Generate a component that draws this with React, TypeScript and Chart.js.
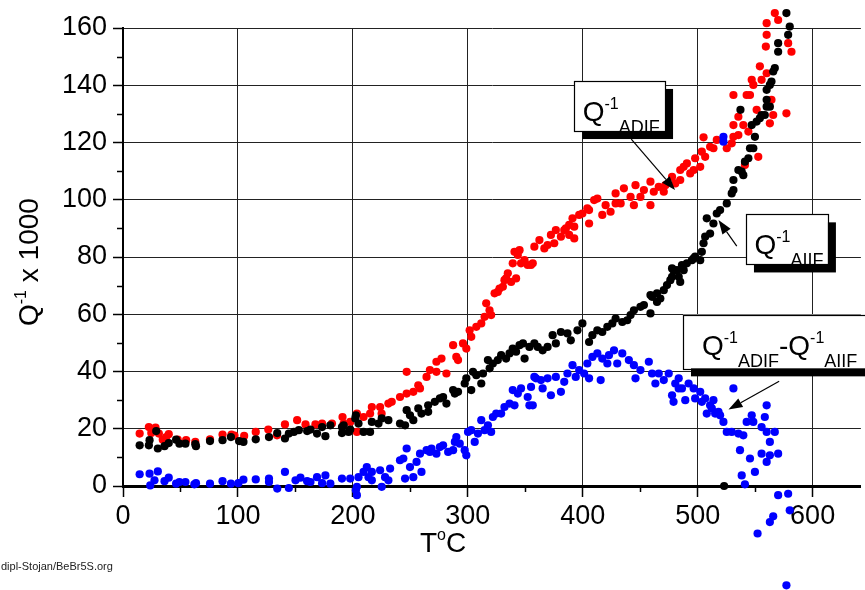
import React, { useEffect, useRef } from "react";
import { Chart, registerables } from "chart.js";

Chart.register(...registerables);

// Temperature (°C) and internal friction Q^-1 x 1000 for the ADIF curve
const adifT = [
  14.5, 22.5, 24.6, 28.3, 31.2, 34.6, 37.6, 39.8, 47.6, 54.9, 62.9, 75.7, 86.6, 94.4, 97.0, 105.4, 115.5, 126.4, 134.0, 140.9,
  151.5, 158.8, 167.4, 173.2, 181.8, 191.0, 192.0, 197.7, 203.5, 203.5, 209.3, 215.0, 216.5, 223.7, 225.0, 230.9, 233.8, 241.0, 246.8, 246.8,
  252.6, 256.9, 258.4, 264.1, 267.0, 272.7, 272.7, 277.1, 281.4, 287.2, 290.0, 291.5, 295.8, 298.7, 301.6, 303.0, 307.4, 311.7, 314.6, 316.0,
  318.9, 320.3, 323.3, 326.1, 327.6, 330.5, 331.9, 333.3, 334.8, 337.7, 339.1, 340.6, 342.0, 343.5, 345.0, 346.3, 349.3, 352.1, 355.0, 356.5,
  357.9, 362.3, 366.6, 369.4, 372.3, 375.2, 376.6, 381.0, 383.9, 385.3, 388.2, 388.2, 391.1, 392.6, 392.6, 396.9, 399.7, 404.0, 405.5, 405.5,
  409.9, 412.7, 417.0, 419.9, 424.2, 428.6, 428.6, 433.0, 435.8, 441.6, 444.5, 445.9, 450.2, 453.2, 458.9, 458.9, 461.8, 466.1, 470.5, 471.9,
  477.7, 480.5, 484.8, 484.8, 487.8, 490.6, 493.5, 496.5, 497.8, 502.2, 503.6, 505.1, 506.5, 510.8, 513.7, 516.6, 525.3, 529.6, 531.1, 531.1,
  531.1, 535.4, 535.4, 539.7, 541.1, 542.6, 544.1, 545.5, 547.0, 548.4, 551.3, 552.7, 554.1, 555.6, 559.3, 560.0, 560.0, 560.0, 562.8, 564.2,
  565.7, 567.1, 570.0, 577.2, 578.7, 581.6,
];
const adifQ = [
  18.3, 20.6, 18.5, 20.4, 18.3, 16.2, 17.1, 18.1, 16.2, 16.0, 15.4, 16.3, 18.0, 18.0, 17.6, 17.5, 18.9, 19.7, 17.7, 21.5,
  23.0, 21.5, 21.5, 21.8, 21.8, 24.1, 21.8, 22.4, 25.3, 18.9, 24.1, 25.3, 27.6, 27.6, 25.3, 28.8, 29.4, 31.1, 32.3, 39.9,
  32.9, 35.2, 34.1, 38.1, 40.5, 39.9, 43.4, 44.5, 39.3, 49.2, 45.1, 44.0, 49.8, 48.0, 54.4, 52.1, 55.6, 56.8, 59.1, 63.8,
  61.4, 59.7, 67.3, 67.8, 69.0, 69.6, 71.9, 72.5, 74.3, 71.3, 77.8, 81.8, 72.5, 80.7, 82.4, 77.8, 78.9, 77.2, 77.2, 77.8,
  83.6, 85.9, 83.0, 84.2, 87.7, 84.8, 89.4, 87.1, 89.4, 90.0, 91.2, 87.7, 93.5, 86.5, 90.6, 94.7, 95.2, 97.0, 96.4, 91.7,
  99.9, 100.4, 94.7, 98.1, 95.8, 102.2, 98.7, 98.7, 104.0, 101.0, 98.1, 105.1, 101.0, 103.4, 106.3, 98.1, 102.8, 104.5, 102.8, 105.1,
  108.0, 105.7, 110.4, 106.9, 111.5, 112.7, 109.2, 110.4, 114.5, 111.5, 116.8, 121.8, 115.0, 118.5, 118.0, 120.9, 118.0, 119.7, 122.0, 126.1,
  136.6, 122.6, 129.0, 126.1, 112.1, 136.6, 123.8, 136.6, 141.9, 140.1, 131.4, 115.0, 146.6, 141.9, 153.5, 144.2, 157.6, 161.7, 126.7, 134.9,
  129.6, 165.2, 162.8, 130.2, 154.7, 151.7,
];

// AIIF curve
const aiifT = [
  14.5, 22.5, 23.1, 28.9, 30.3, 36.1, 39.8, 46.2, 49.1, 54.3, 62.9, 63.5, 75.7, 86.6, 93.9, 101.0, 104.8, 115.5, 127.0, 134.2,
  140.9, 144.3, 148.7, 153.0, 160.2, 163.1, 168.8, 173.2, 176.1, 180.4, 190.5, 190.5, 192.0, 196.3, 197.7, 202.1, 202.6, 204.9, 209.3, 215.0,
  216.5, 222.3, 225.1, 230.9, 241.0, 245.4, 246.8, 249.7, 252.6, 256.9, 259.7, 265.5, 265.5, 271.3, 275.7, 278.5, 281.4, 287.2, 288.7, 291.5,
  297.3, 298.7, 303.0, 304.5, 307.4, 311.7, 313.2, 317.5, 319.0, 321.8, 326.1, 329.0, 333.3, 336.3, 339.1, 342.0, 345.0, 348.0, 349.4, 353.6,
  357.9, 360.8, 365.1, 369.4, 373.8, 376.6, 381.0, 386.7, 389.6, 395.4, 399.7, 405.5, 408.4, 412.7, 417.0, 421.4, 425.7, 428.6, 434.4, 438.7,
  441.6, 444.5, 450.2, 453.2, 458.9, 458.9, 460.3, 464.6, 464.6, 467.5, 470.5, 473.3, 476.2, 477.7, 477.7, 479.0, 482.0, 483.5, 484.8, 486.3,
  487.8, 490.6, 495.0, 496.5, 497.8, 502.2, 503.6, 505.1, 506.5, 507.9, 510.8, 513.7, 516.6, 519.5, 523.0, 525.3, 529.6, 531.1, 531.1, 535.4,
  537.2, 538.3, 539.7, 541.1, 544.1, 545.5, 547.0, 548.4, 549.8, 551.3, 554.1, 555.6, 558.4, 560.0, 560.0, 560.0, 562.8, 562.8, 564.2, 565.7,
  567.1, 570.0, 570.0, 577.2, 578.7, 580.1,
];
const aiifQ = [
  14.2, 14.2, 16.0, 19.2, 13.1, 13.9, 15.0, 16.2, 14.8, 14.8, 14.6, 13.9, 15.7, 16.0, 17.1, 15.7, 15.4, 16.3, 17.1, 18.5,
  16.6, 18.3, 18.9, 19.5, 19.2, 19.7, 18.3, 20.6, 17.4, 21.2, 18.5, 20.6, 21.2, 18.9, 19.7, 23.6, 24.7, 21.8, 18.9, 18.9,
  22.4, 21.8, 23.6, 23.0, 21.8, 21.2, 26.5, 24.7, 23.0, 27.1, 25.3, 25.9, 28.2, 29.4, 30.6, 31.1, 28.8, 33.5, 32.3, 32.9,
  35.8, 37.6, 33.5, 39.9, 38.7, 35.8, 39.3, 44.0, 41.1, 42.8, 44.0, 45.7, 44.5, 46.3, 48.0, 46.9, 49.2, 49.8, 44.5, 48.6,
  49.8, 48.6, 47.4, 48.6, 52.7, 49.8, 53.8, 53.3, 50.9, 54.4, 56.8, 50.3, 52.7, 54.4, 53.8, 55.6, 56.8, 58.5, 57.3, 57.9,
  59.7, 61.4, 62.6, 63.2, 60.3, 66.7, 66.1, 64.3, 67.3, 65.5, 68.4, 70.2, 71.9, 73.1, 76.0, 75.4, 75.4, 73.1, 71.3, 77.2,
  75.4, 77.8, 78.9, 79.5, 80.1, 78.9, 81.8, 84.8, 87.1, 93.5, 88.2, 91.7, 95.2, 96.4, 0.0, 98.7, 102.2, 103.4, 106.9, 110.4,
  131.4, 109.8, 108.6, 113.3, 114.5, 118.0, 126.1, 118.0, 122.0, 127.3, 128.5, 129.6, 129.6, 132.5, 134.9, 138.4, 132.5, 140.1, 141.3, 144.8,
  146.0, 151.7, 154.7, 165.2, 157.6, 160.5,
];

// Difference ADIF - AIIF
const diffT = [
  14.5, 23.1, 23.7, 27.4, 30.3, 36.1, 39.8, 46.2, 49.1, 54.3, 62.1, 63.5, 75.7, 86.6, 93.9, 100.4, 104.8, 115.5, 127.0, 127.0,
  134.2, 140.9, 144.3, 150.1, 154.4, 160.2, 163.1, 168.8, 173.2, 176.1, 180.4, 190.5, 197.7, 202.6, 203.5, 203.5, 204.9, 209.3, 212.1, 213.6,
  216.5, 216.5, 223.7, 225.1, 228.0, 230.9, 232.4, 241.0, 243.9, 245.4, 246.8, 249.7, 252.6, 255.4, 258.4, 259.7, 264.1, 267.0, 268.4, 272.7,
  275.7, 278.5, 282.9, 287.2, 288.7, 290.0, 293.0, 297.3, 298.7, 300.2, 303.0, 306.0, 308.8, 311.7, 314.6, 317.5, 320.3, 321.8, 324.7, 329.0,
  331.9, 336.3, 339.1, 340.6, 343.5, 346.3, 352.1, 353.6, 355.0, 356.5, 357.9, 359.3, 363.6, 365.1, 369.4, 372.3, 376.6, 381.0, 383.9, 386.7,
  391.1, 393.9, 396.9, 401.2, 404.0, 405.5, 408.4, 412.7, 415.6, 417.0, 421.4, 422.8, 427.2, 430.0, 434.4, 440.1, 444.5, 445.9, 450.2, 457.5,
  460.3, 463.2, 466.1, 470.5, 474.8, 477.7, 479.0, 480.5, 483.5, 483.5, 486.3, 489.2, 492.1, 496.5, 497.8, 502.2, 503.6, 506.5, 507.9, 510.8,
  512.3, 513.7, 515.2, 518.1, 519.5, 522.4, 522.4, 522.4, 525.3, 529.6, 531.1, 535.4, 536.8, 538.3, 539.7, 541.1, 542.6, 545.5, 547.0, 548.4,
  549.8, 552.1, 555.6, 555.6, 558.4, 560.0, 560.0, 560.0, 562.8, 562.8, 562.8, 565.7, 567.1, 570.0, 570.0, 577.2, 578.7, 580.1,
];
const diffQ = [
  4.1, 4.3, 0.2, 2.0, 5.1, 1.7, 2.9, 0.8, 1.4, 1.4, 0.6, 1.0, 0.8, 1.7, 0.8, 1.0, 2.2, 2.3, 2.6, 1.4,
  -0.9, 4.9, -0.7, 2.0, 2.9, 1.7, 1.4, 3.1, 1.0, 3.7, 0.8, 2.6, 2.6, -1.5, -0.3, -3.2, 3.1, 4.9, 6.6, 3.1,
  4.9, 2.0, 5.5, -0.3, 3.1, 2.0, 6.1, 9.0, 9.6, 2.6, 13.1, 6.6, 3.1, 8.4, 11.3, 4.9, 12.5, 11.9, 13.1, 11.3,
  13.6, 14.2, 11.9, 12.5, 15.4, 17.1, 14.8, 12.5, 10.7, 18.9, 19.5, 15.4, 18.3, 23.0, 19.5, 21.2, 18.9, 24.1, 25.3, 25.3,
  27.6, 28.8, 33.5, 28.2, 32.3, 34.1, 31.1, 28.2, 34.6, 28.2, 38.1, 37.6, 37.0, 34.1, 37.6, 31.7, 38.1, 32.9, 36.4, 39.3,
  42.2, 38.1, 40.5, 39.3, 42.8, 37.6, 45.1, 46.3, 37.0, 44.5, 42.8, 45.7, 47.4, 42.8, 46.3, 44.0, 42.2, 37.6, 40.5, 43.4,
  39.3, 35.8, 39.3, 37.0, 39.3, 31.7, 29.4, 35.8, 34.1, 37.6, 34.1, 30.0, 35.8, 34.1, 30.6, 32.9, 29.4, 30.6, 25.3, 28.2,
  27.1, 30.0, 25.3, 25.9, 24.7, 22.4, 122.0, 120.3, 18.9, 18.9, 34.1, 18.3, 12.5, 3.7, 17.7, 0.6, 22.4, 9.6, 24.7, 22.4,
  4.9, -16.6, 20.6, 11.3, 24.1, 28.2, 18.9, 8.4, 15.4, 10.7, -12.6, -10.6, 18.9, 11.3, -3.2, -34.7, -2.7, -8.5,
];

const xTickValues = [0, 100, 200, 300, 400, 500, 600];
const yTickValues = [0, 20, 40, 60, 80, 100, 120, 140, 160];
const xMinorValues = [50, 150, 250, 350, 450, 550];
const yMinorValues = [10, 30, 50, 70, 90, 110, 130, 150];

const FONT = '"Liberation Sans", Arial, Helvetica, sans-serif';
const POINT_RADIUS = 4.1;

type Part = { text: string; kind: "base" | "sup" | "sub" };

// Callout boxes (corners and arrow ends given in data units)
const callouts: {
  parts: Part[];
  box: [number, number, number, number];
  padLeft: number;
  arrowFrom: [number, number];
  arrowTo: [number, number];
}[] = [
  {
    parts: [
      { text: "Q", kind: "base" },
      { text: "-1", kind: "sup" },
      { text: "ADIF", kind: "sub" },
    ],
    box: [392.6, 141.5, 471.6, 124.0],
    padLeft: 8.5,
    arrowFrom: [442.2, 121.2],
    arrowTo: [480.3, 103.4],
  },
  {
    parts: [
      { text: "Q", kind: "base" },
      { text: "-1", kind: "sup" },
      { text: "AIIF", kind: "sub" },
    ],
    box: [542.0, 94.9, 613.3, 77.4],
    padLeft: 8.5,
    arrowFrom: [534.0, 83.8],
    arrowTo: [518.1, 92.9],
  },
  {
    parts: [
      { text: "Q", kind: "base" },
      { text: "-1", kind: "sup" },
      { text: "ADIF", kind: "sub" },
      { text: "-", kind: "base" },
      { text: "Q", kind: "base" },
      { text: "-1", kind: "sup" },
      { text: "AIIF", kind: "sub" },
    ],
    box: [487.2, 59.9, 654.0, 41.1],
    padLeft: 19,
    arrowFrom: [570.9, 36.6],
    arrowTo: [526.8, 26.7],
  },
];

const pts = (xs: number[], ys: number[]) => xs.map((x, i) => ({ x, y: ys[i] }));

function drawRich(ctx: CanvasRenderingContext2D, parts: Part[], x: number, y: number) {
  let cx = x;
  for (const p of parts) {
    const size = p.kind === "base" ? 28 : p.kind === "sup" ? 16 : 18;
    const dy = p.kind === "sup" ? -12 : p.kind === "sub" ? 12 : 0;
    ctx.font = `${size}px ${FONT}`;
    ctx.fillText(p.text, cx, y + dy);
    cx += ctx.measureText(p.text).width;
  }
}

function arrow(ctx: CanvasRenderingContext2D, x0: number, y0: number, x1: number, y1: number) {
  const ang = Math.atan2(y1 - y0, x1 - x0);
  const hl = 14;
  const hw = 5;
  ctx.beginPath();
  ctx.moveTo(x0, y0);
  ctx.lineTo(x1 - hl * Math.cos(ang), y1 - hl * Math.sin(ang));
  ctx.lineWidth = 1.2;
  ctx.strokeStyle = "#000";
  ctx.stroke();
  ctx.beginPath();
  ctx.moveTo(x1, y1);
  ctx.lineTo(x1 - hl * Math.cos(ang) + hw * Math.sin(ang), y1 - hl * Math.sin(ang) - hw * Math.cos(ang));
  ctx.lineTo(x1 - hl * Math.cos(ang) - hw * Math.sin(ang), y1 - hl * Math.sin(ang) + hw * Math.cos(ang));
  ctx.closePath();
  ctx.fillStyle = "#000";
  ctx.fill();
}

// Chart.js skips points whose centre lies outside the chart area; the
// readings above 160 and below 0 are still shown, so draw those elements here.
const overflowPointsPlugin = {
  id: "overflowPoints",
  afterDatasetsDraw(chart: any) {
    const area = chart.chartArea;
    const everywhere = { left: -1e5, top: -1e5, right: 1e5, bottom: 1e5 };
    for (let i = chart.data.datasets.length - 1; i >= 0; i--) {
      const meta = chart.getDatasetMeta(i);
      for (const el of meta.data) {
        const r = POINT_RADIUS;
        if (el.x < area.left - r || el.x > area.right + r || el.y < area.top - r || el.y > area.bottom + r) {
          el.draw(chart.ctx, everywhere);
        }
      }
    }
  },
};

const decorPlugin = {
  id: "decor",
  afterDraw(chart: any) {
    const { ctx, chartArea } = chart;
    const xs = chart.scales.x;
    const ys = chart.scales.y;
    ctx.save();

    // minor tick marks
    ctx.strokeStyle = "#000";
    ctx.lineWidth = 1.5;
    for (const v of xMinorValues) {
      const px = Math.round(xs.getPixelForValue(v)) + 0.5;
      ctx.beginPath();
      ctx.moveTo(px, chartArea.bottom);
      ctx.lineTo(px, chartArea.bottom + 6);
      ctx.stroke();
    }
    for (const v of yMinorValues) {
      const py = Math.round(ys.getPixelForValue(v)) + 0.5;
      ctx.beginPath();
      ctx.moveTo(chartArea.left - 6, py);
      ctx.lineTo(chartArea.left, py);
      ctx.stroke();
    }

    // axis titles
    ctx.fillStyle = "#000";
    ctx.textBaseline = "alphabetic";
    ctx.textAlign = "left";
    drawRich(
      ctx,
      [
        { text: "T", kind: "base" },
        { text: "o", kind: "sup" },
        { text: "C", kind: "base" },
      ],
      chartArea.left + 297,
      chartArea.bottom + 66
    );
    ctx.save();
    ctx.translate(chartArea.left - 85, chartArea.top + 298);
    ctx.rotate(-Math.PI / 2);
    drawRich(
      ctx,
      [
        { text: "Q", kind: "base" },
        { text: "-1", kind: "sup" },
        { text: " x 1000", kind: "base" },
      ],
      0,
      0
    );
    ctx.restore();

    // credit line
    ctx.font = `11px ${FONT}`;
    ctx.fillStyle = "#222";
    ctx.fillText("dipl-Stojan/BeBr5S.org", 1, 570);

    // callouts
    for (const c of callouts) {
      const l = xs.getPixelForValue(c.box[0]);
      const t = ys.getPixelForValue(c.box[1]);
      const r = xs.getPixelForValue(c.box[2]);
      const b = ys.getPixelForValue(c.box[3]);
      ctx.fillStyle = "#000";
      ctx.fillRect(l + 8, t + 8, r - l, b - t);
      ctx.fillStyle = "#fff";
      ctx.fillRect(l, t, r - l, b - t);
      ctx.save();
      ctx.beginPath();
      ctx.rect(l, t, r - l, b - t);
      ctx.clip();
      ctx.fillStyle = "#000";
      drawRich(ctx, c.parts, l + c.padLeft, t + 40);
      ctx.restore();
      ctx.strokeStyle = "#000";
      ctx.lineWidth = 1.2;
      ctx.strokeRect(Math.round(l) + 0.5, Math.round(t) + 0.5, Math.round(r - l), Math.round(b - t));
      arrow(
        ctx,
        xs.getPixelForValue(c.arrowFrom[0]),
        ys.getPixelForValue(c.arrowFrom[1]),
        xs.getPixelForValue(c.arrowTo[0]),
        ys.getPixelForValue(c.arrowTo[1])
      );
    }
    ctx.restore();
  },
};

export default function App() {
  const ref = useRef<HTMLCanvasElement>(null);

  useEffect(() => {
    if (!ref.current) return;
    const pointStyle = {
      pointRadius: POINT_RADIUS,
      pointHoverRadius: POINT_RADIUS,
      pointBorderWidth: 0,
      showLine: false,
      clip: false as any,
    };
    const chart = new Chart(ref.current, {
      type: "scatter",
      data: {
        datasets: [
          { label: "diff", data: pts(diffT, diffQ), backgroundColor: "#0000ff", ...pointStyle },
          { label: "AIIF", data: pts(aiifT, aiifQ), backgroundColor: "#000000", ...pointStyle },
          { label: "ADIF", data: pts(adifT, adifQ), backgroundColor: "#ff0000", ...pointStyle },
        ],
      },
      options: {
        animation: false,
        responsive: false,
        devicePixelRatio: 1,
        layout: { padding: { top: 28, left: 0, right: 0, bottom: 0 } },
        plugins: { legend: { display: false }, tooltip: { enabled: false } },
        scales: {
          x: {
            type: "linear",
            min: 0,
            max: 642,
            afterBuildTicks: (s: any) => {
              s.ticks = xTickValues.map((value) => ({ value }));
            },
            afterFit: (s: any) => {
              s.height = 104;
            },
            ticks: {
              includeBounds: false,
              font: { family: FONT, size: 27 },
              color: "#000",
              padding: 3,
              maxRotation: 0,
              autoSkip: false,
            },
            grid: { color: "#222", lineWidth: 1, tickLength: 11, tickColor: "#000", tickWidth: 1.5 },
            border: { display: true, color: "#000", width: 3 },
          },
          y: {
            type: "linear",
            min: 0,
            max: 160,
            afterBuildTicks: (s: any) => {
              s.ticks = yTickValues.map((value) => ({ value }));
            },
            afterFit: (s: any) => {
              s.width = 123;
            },
            ticks: {
              includeBounds: false,
              font: { family: FONT, size: 27 },
              color: "#000",
              padding: 6,
              autoSkip: false,
            },
            grid: { color: "#222", lineWidth: 1, tickLength: 10, tickColor: "#000", tickWidth: 1.5 },
            border: { display: true, color: "#000", width: 2 },
          },
        },
      },
      plugins: [overflowPointsPlugin, decorPlugin],
    });
    return () => chart.destroy();
  }, []);

  return (
    <div
      style={{
        position: "absolute",
        left: 0,
        top: 0,
        width: 865,
        height: 590,
        overflow: "hidden",
        background: "#fff",
      }}
    >
      <canvas ref={ref} width={865} height={590} style={{ display: "block" }} />
    </div>
  );
}
